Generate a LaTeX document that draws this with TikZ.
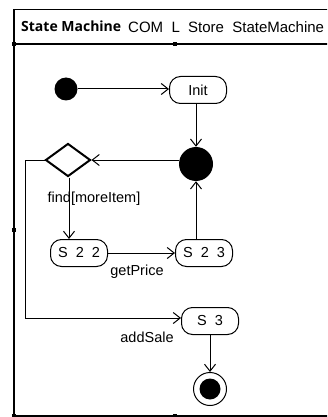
\documentclass[tikz,border=0pt]{standalone}
\usepackage{fontspec}
\setmainfont{Liberation Sans}
\newfontfamily\titlefont{Open Sans}
\usetikzlibrary{arrows.meta,shapes.geometric}
\begin{document}
\begin{tikzpicture}[x=1pt,y=-1pt,
  state/.style={draw,line width=1pt,rounded corners=11pt,minimum width=57pt,minimum height=27pt,inner sep=0pt,font=\fontsize{14.5}{14.5}\selectfont},
  lbl/.style={font=\fontsize{14.5}{14.5}\selectfont,inner sep=0pt},
  flow/.style={line width=1pt,-{Straight Barb[length=7pt,width=11pt,line width=1pt]}},
  handle/.style={fill=black,minimum size=3.5pt,inner sep=0pt}]
\useasboundingbox (0,0) rectangle (327,417);
\begin{scope}
\clip (0,0) rectangle (327,417);
% frame and header
\draw[line width=1.2pt] (14,416) -- (14,9.5) -- (345,9.5) -- (345,416) -- cycle;
\draw[line width=1.6pt] (14,44) -- (345,44);
\end{scope}
\node[handle] (h1) at (14,44) {};
\node[handle] (h2) at (175,44) {};
\node[handle] (h3) at (14,230) {};
\node[handle] (h4) at (14,416) {};
\node[handle] (h5) at (175,416) {};
\node[anchor=base west,inner sep=0pt,font=\fontsize{14}{14}\titlefont\bfseries] (title) at (21,32) {State Machine};
\node[anchor=base west,inner sep=0pt,font=\fontsize{15}{15}\selectfont] (name) at (128,33) {COM\ \ L\ \ Store\ \ StateMachine};
% states
\node[circle,fill=black,minimum size=23pt,inner sep=0pt] (start) at (66,89) {};
\node[state] (init) at (198,90) {Init};
\node[circle,fill=black,minimum size=34pt,inner sep=0pt] (junc) at (196,164) {};
\node[diamond,draw,line width=2pt,minimum width=45pt,minimum height=33pt,inner sep=0pt] (dec) at (68,160) {};
\node[state] (s22) at (79,253) {S\ \ 2\ \ 2};
\node[state] (s23) at (204,253) {S\ \ 2\ \ 3};
\node[state] (s3) at (210,321) {S\ \ 3};
\node[circle,draw,line width=1pt,minimum size=33pt,inner sep=0pt] (final) at (210,389) {};
\node[circle,fill=black,minimum size=21pt,inner sep=0pt] (finalin) at (final) {};
% transitions
\draw[flow] (start) -- (init.west |- start);
\draw[flow] (init.south -| junc) -- (junc);
\draw[flow] (junc.west |- dec) -- (dec.east);
\draw[flow] (dec.south -| 69,0) -- (s22.north -| 69,0);
\draw[flow] (s22) -- (s23);
\draw[flow] (s23.north -| junc) -- (junc);
\draw[flow] (dec.west) -- (25,160) -- (25,318) -- (s3.west |- 0,318);
\draw[flow] (s3) -- (final);
% labels
\node[lbl] (l1) at (94,199) {find[moreItem]};
\node[lbl] (l2) at (137,272) {getPrice};
\node[lbl] (l3) at (147,337) {addSale};
\end{tikzpicture}
\end{document}
